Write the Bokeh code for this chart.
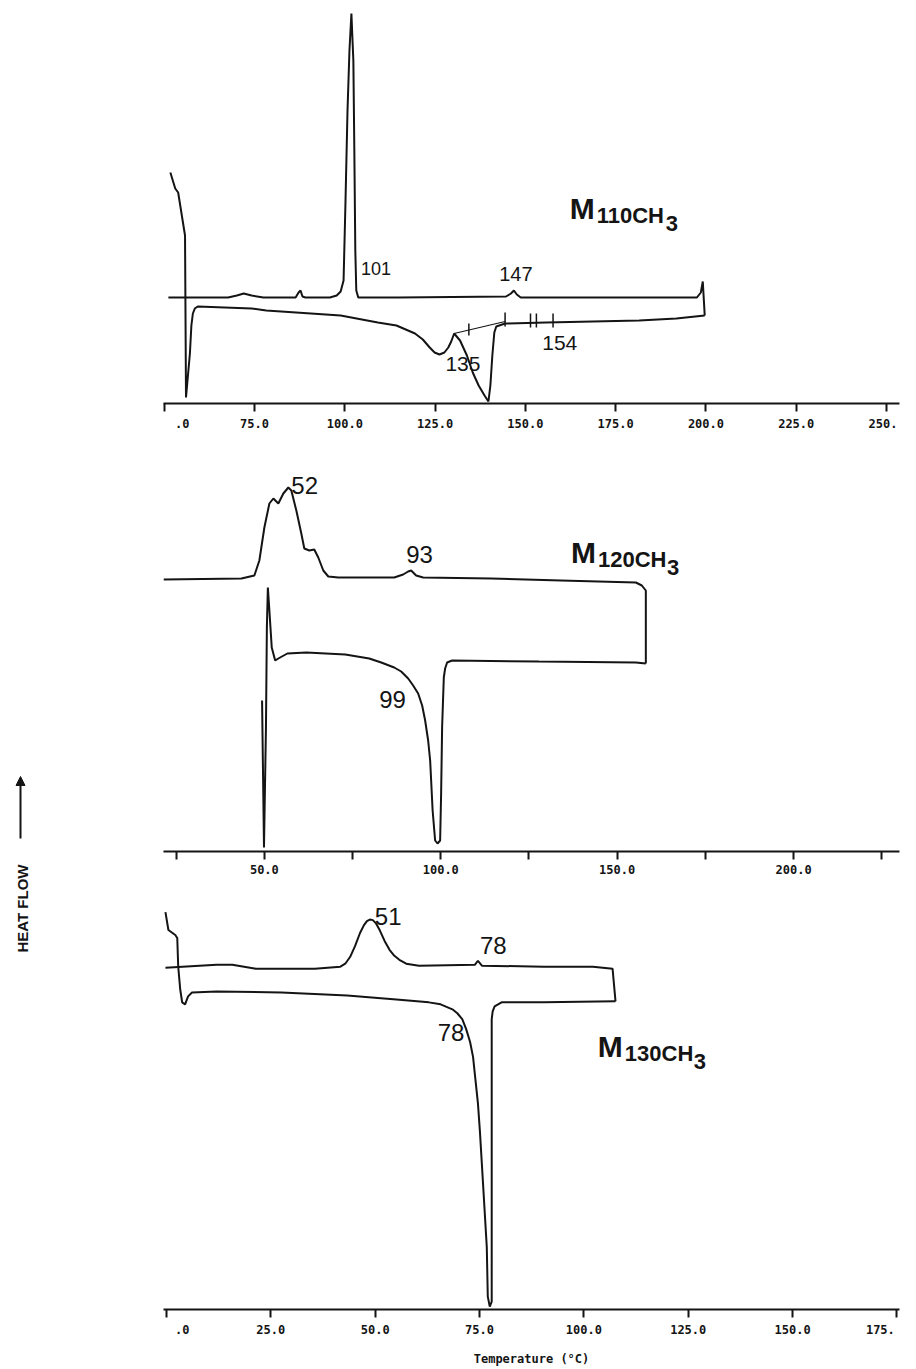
import math
from bokeh.plotting import figure
from bokeh.layouts import column, row
from bokeh.models import Range1d, FixedTicker, Label, Arrow, NormalHead, PrintfTickFormatter
from bokeh.embed import file_html
from bokeh.resources import INLINE

# ---------------- data (temperature in degC, heat flow in arbitrary units) ----------------
# Panel 1 : M11OCH3
p1_heat_T = [51.7, 53.05, 53.86, 55.76, 56.03, 57.11, 57.52, 57.93, 58.47, 59.28, 74.19, 78.25,
             98.85, 109.15, 114.3, 119.44, 121.6, 123.51, 124.86, 126.22, 127.58, 128.66, 129.47,
             130.28, 131.91, 133.81, 135.43, 137.06, 138.69, 139.77, 140.31, 140.85, 141.4,
             141.94, 144.38, 155.76, 181.5, 191.8, 199.66]
p1_heat_y = [57.75, 53.75, 52.75, 42.0, 1.5, 12.5, 19.5, 22.5, 23.75, 24.25, 23.75, 23.25,
             22.0, 20.25, 19.5, 17.5, 16.0, 14.0, 12.75, 12.25, 12.75, 14.0, 15.5,
             17.5, 15.75, 12.0, 7.75, 4.5, 2.0, 0.5, 4.5, 12.0, 17.75,
             19.25, 20.0, 20.25, 20.75, 21.25, 22.0]
p1_cool_T = [51.15, 67.68, 70.12, 72.02, 74.19, 77.44, 86.38, 87.2, 87.74, 88.28, 89.09, 95.87,
             97.76, 98.85, 99.66, 100.2, 100.75, 101.29, 101.83, 102.37, 102.64, 102.91, 103.18,
             103.73, 114.84, 144.65, 146.0, 146.82, 147.63, 148.71, 169.04, 197.5, 198.58,
             199.12, 199.66]
p1_cool_y = [26.5, 26.5, 27.0, 27.5, 27.0, 26.5, 26.5, 27.75, 28.25, 26.75, 26.5, 26.5,
             27.0, 28.0, 30.75, 50.75, 73.25, 88.25, 97.5, 85.75, 63.25, 38.25, 28.25,
             26.5, 26.5, 26.75, 27.5, 28.25, 27.25, 26.5, 26.5, 26.5, 27.75,
             30.5, 22.0]
p1_base_T = [130.28, 144.38]
p1_base_y = [17.5, 20.5]
p1_mark_T = [134.35, 144.38, 151.42, 153.05, 157.66]
p1_mark_y0 = [17.0, 19.25, 19.0, 19.0, 19.0]
p1_mark_y1 = [20.0, 22.75, 22.5, 22.5, 22.5]
p1_ticks = [50, 75, 100, 125, 150, 175, 200, 225, 250]
p1_labels = {50: "\u00a0\u00a0.0", 250: "250.\u00a0"}

# Panel 2 : M12OCH3
p2_heat_T = [49.35, 49.89, 50.45, 50.71, 50.99, 51.42, 52.09, 53.06, 53.96, 56.51, 61.89, 72.93,
             79.72, 83.12, 86.8, 88.78, 90.76, 92.17, 93.59, 94.72, 95.57, 96.42, 96.99, 97.69,
             98.4, 99.08, 99.82, 100.1, 100.38, 100.86, 101.23, 101.8, 103.21, 127.84, 155.29,
             158.12]
p2_heat_y = [37.75, 1.0, 31.0, 56.0, 66.0, 60.25, 51.0, 47.75, 48.25, 49.5, 49.75, 49.25,
             48.25, 47.25, 46.0, 45.0, 43.25, 41.5, 39.5, 36.5, 32.75, 27.75, 22.75, 10.25,
             2.75, 2.0, 2.75, 14.5, 31.0, 43.5, 45.75, 47.25, 47.75, 47.5, 47.25,
             47.0]
p2_cool_T = [21.41, 43.49, 47.17, 48.58, 50.0, 51.42, 52.55, 53.96, 55.38, 56.79, 57.64, 59.06,
             60.47, 61.32, 62.74, 64.15, 65.28, 66.7, 68.12, 70.95, 86.8, 89.34, 90.76, 91.61,
             93.02, 95.0, 114.25, 134.06, 155.29, 156.99, 158.12, 158.12]
p2_cool_y = [68.0, 68.25, 69.0, 72.75, 81.0, 87.0, 88.25, 87.0, 89.5, 91.0, 90.25, 85.25,
             79.5, 75.75, 75.25, 75.5, 73.5, 70.25, 68.75, 68.5, 68.5, 69.25, 70.0, 70.25,
             69.0, 68.5, 68.25, 67.75, 67.25, 66.5, 65.25, 47.0]
p2_ticks = [25, 50, 75, 100, 125, 150, 175, 200, 225]
p2_labels = {25: "", 75: "", 125: "", 175: "", 225: ""}

# Panel 3 : M13OCH3
p3_heat_T = [-0.24, 0.47, 2.12, 2.59, 2.82, 3.3, 3.77, 4.47, 5.18, 6.12, 12.01, 27.54, 43.31,
             55.08, 62.85, 65.68, 68.5, 69.68, 70.86, 71.8, 72.74, 73.45, 73.92, 74.62, 75.09,
             75.8, 76.74, 76.98, 77.45, 77.92, 77.92, 77.92, 78.15, 78.62, 80.27, 90.4, 107.58]
p3_heat_y = [100.25, 95.75, 94.5, 93.75, 86.5, 80.75, 77.5, 77.0, 79.0, 80.0, 80.25, 80.0, 79.25,
             78.25, 77.5, 77.0, 75.75, 74.75, 73.25, 70.75, 67.5, 63.75, 59.0, 52.0, 45.0,
             32.5, 15.75, 3.25, 0.75, 2.0, 53.25, 73.25, 75.25, 76.5, 77.5, 77.5, 77.75]
p3_cool_T = [-0.24, 12.01, 15.77, 21.42, 35.55, 41.67, 42.84, 44.02, 45.2, 46.37, 47.32, 48.02,
             48.73, 49.44, 50.14, 51.08, 52.26, 53.44, 54.61, 55.79, 57.44, 60.5, 73.92, 74.62,
             75.56, 90.4, 102.17, 106.87, 107.58]
p3_cool_y = [86.25, 87.0, 87.0, 86.0, 86.0, 86.5, 87.25, 89.0, 91.75, 95.0, 97.0, 98.0,
             98.4, 98.25, 97.5, 95.75, 93.0, 90.75, 89.25, 88.25, 87.25, 86.75, 87.0, 88.0,
             86.75, 86.5, 86.5, 86.0, 77.75]
p3_ticks = [0, 25, 50, 75, 100, 125, 150, 175]
p3_labels = {0: "\u00a0\u00a0.0", 175: "175.\u00a0\u00a0\u00a0"}

# peak annotations (text, T, y)
p1_notes = [("101", 104.5, 33.75), ("147", 142.75, 32.5), ("135", 127.85, 10.0), ("154", 154.67, 15.25)]
p2_notes = [("52", 57.64, 91.5), ("93", 90.19, 74.25), ("99", 82.55, 38.0)]
p3_notes = [("51", 49.91, 99.25), ("78", 75.09, 91.75), ("78", 64.97, 70.0)]
p1_note_sizes = ["18px", "20px", "21px", "21px"]
p2_note_sizes = ["24px", "24px", "24px"]
p3_note_sizes = ["24px", "24px", "24px"]

# compound names: (main letter, subscript, final subscript, T, y)
names = [("M", "110CH", "3", 162.26, 48.75),
         ("M", "120CH", "3", 136.89, 74.75),
         ("M", "130CH", "3", 103.34, 66.25)]

# ---------------- styling ----------------
INK = "#141414"
NARROW = "'Liberation Sans Narrow', 'Liberation Sans', sans-serif"
BOLDF = "'Liberation Sans', 'Arial', sans-serif"
TICKF = "'DejaVu Sans Mono', monospace"


def panel(height, xr, yr, ticks, overrides, left, right, bottom, title=None):
    p = figure(width=756, height=height, x_range=Range1d(*xr), y_range=Range1d(*yr),
               toolbar_location=None, output_backend="svg", y_axis_location=None,
               min_border_left=left, min_border_right=right, min_border_top=0,
               min_border_bottom=bottom)
    p.grid.visible = False
    p.outline_line_color = None
    ax = p.xaxis[0]
    ax.ticker = FixedTicker(ticks=ticks, minor_ticks=[])
    ax.formatter = PrintfTickFormatter(format="%.1f")
    ax.major_label_overrides = overrides
    ax.major_tick_out = 8
    ax.major_tick_in = 0
    ax.minor_tick_out = 0
    ax.minor_tick_in = 0
    ax.axis_line_width = 2
    ax.axis_line_color = INK
    ax.major_tick_line_width = 2
    ax.major_tick_line_color = INK
    ax.major_label_text_font = TICKF
    ax.major_label_text_font_size = "12px"
    ax.major_label_text_font_style = "bold"
    ax.major_label_text_color = INK
    ax.major_label_standoff = 5
    if title:
        ax.axis_label = title
        ax.axis_label_text_font = TICKF
        ax.axis_label_text_font_size = "12px"
        ax.axis_label_text_font_style = "bold"
        ax.axis_label_text_color = INK
        ax.axis_label_standoff = 12
    return p


def add_notes(p, notes, sizes):
    for (txt, t, y), s in zip(notes, sizes):
        p.add_layout(Label(x=t, y=y, text=txt, text_font=NARROW, text_font_size=s,
                           text_color=INK, text_baseline="middle", text_align="left"))


def add_name(p, nm):
    m, sub, last, t, y = nm
    p.add_layout(Label(x=t, y=y, text=m, text_font=BOLDF, text_font_size="30px",
                       text_font_style="bold", text_color=INK, text_baseline="alphabetic"))
    p.add_layout(Label(x=t, y=y, x_offset=27, y_offset=-7, text=sub, text_font=BOLDF,
                       text_font_size="22px", text_font_style="bold", text_color=INK,
                       text_baseline="alphabetic"))
    p.add_layout(Label(x=t, y=y, x_offset=96, y_offset=-15, text=last, text_font=BOLDF,
                       text_font_size="22px", text_font_style="bold", text_color=INK,
                       text_baseline="alphabetic"))


# Panel 1
p1 = panel(433, (49.80, 253.59), (0, 100.75), p1_ticks, p1_labels, 0, 4, 30)
p1.line(p1_cool_T, p1_cool_y, line_color=INK, line_width=2)
p1.line(p1_heat_T, p1_heat_y, line_color=INK, line_width=2)
p1.line(p1_base_T, p1_base_y, line_color=INK, line_width=1.2)
p1.segment(x0=p1_mark_T, y0=p1_mark_y0, x1=p1_mark_T, y1=p1_mark_y1, line_color=INK, line_width=1.5)
add_notes(p1, p1_notes, p1_note_sizes)
add_name(p1, names[0])

# Panel 2
p2 = panel(447, (21.41, 230.02), (0, 104.5), p2_ticks, p2_labels, 2, 17, 29)
p2.line(p2_cool_T, p2_cool_y, line_color=INK, line_width=2)
p2.line(p2_heat_T, p2_heat_y, line_color=INK, line_width=2)
add_notes(p2, p2_notes, p2_note_sizes)
add_name(p2, names[1])

# Panel 3
p3 = panel(488, (-0.706, 175.61), (0, 108.25), p3_ticks, p3_labels, 3, 4, 55,
           title="Temperature (\u00b0C)")
p3.line(p3_cool_T, p3_cool_y, line_color=INK, line_width=2)
p3.line(p3_heat_T, p3_heat_y, line_color=INK, line_width=2)
add_notes(p3, p3_notes, p3_note_sizes)
add_name(p3, names[2])

# Left strip with the HEAT FLOW label
side = figure(width=160, height=1368, x_range=Range1d(0, 160), y_range=Range1d(1368, 0),
              toolbar_location=None, output_backend="svg", x_axis_location=None,
              y_axis_location=None, min_border=0)
side.grid.visible = False
side.outline_line_color = None
side.add_layout(Label(x=22, y=908, text="HEAT FLOW", angle=math.pi / 2, text_align="center",
                      text_baseline="middle", text_font=BOLDF, text_font_size="15px",
                      text_font_style="bold", text_color=INK))
side.add_layout(Arrow(end=NormalHead(size=9, fill_color=INK, line_color=INK),
                      x_start=20, y_start=838, x_end=20, y_end=776,
                      line_width=2, line_color=INK))

layout = row(side, column(p1, p2, p3))
open("out.html", "w").write(file_html(layout, INLINE))
